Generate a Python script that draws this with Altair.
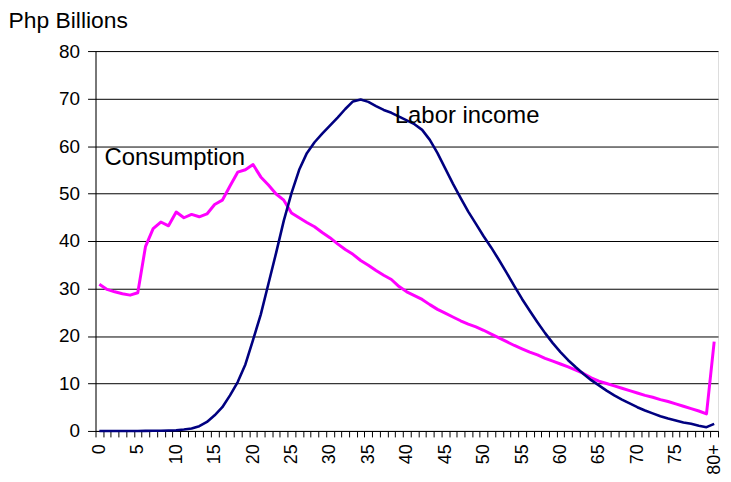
import altair as alt
import pandas as pd

ages = list(range(81))

consumption = [
    30.9, 29.8, 29.3, 28.9, 28.6, 29.1, 38.8, 42.6, 44.0, 43.2,
    46.1, 44.9, 45.6, 45.1, 45.7, 47.7, 48.6, 51.6, 54.5, 55.0,
    56.1, 53.5, 51.8, 49.9, 48.6, 45.9, 44.9, 43.9, 43.0, 41.8,
    40.7, 39.4, 38.2, 37.2, 35.9, 34.9, 33.8, 32.8, 31.9, 30.4,
    29.3, 28.5, 27.7, 26.6, 25.6, 24.8, 24.0, 23.2, 22.5, 21.9,
    21.2, 20.4, 19.6, 18.8, 18.0, 17.3, 16.6, 16.0, 15.3, 14.7,
    14.1, 13.5, 12.8, 12.1, 11.2, 10.5, 10.0, 9.5, 9.0, 8.5,
    8.0, 7.5, 7.1, 6.6, 6.2, 5.7, 5.2, 4.7, 4.2, 3.6,
    18.8,
]

labor_income = [
    0.0, 0.0, 0.0, 0.0, 0.0, 0.0, 0.02, 0.03, 0.05, 0.1,
    0.15, 0.3, 0.5, 1.0, 1.9, 3.3, 5.0, 7.5, 10.3, 14.0,
    19.2, 24.5, 31.0, 37.5, 44.3, 50.1, 55.0, 58.5, 60.8, 62.6,
    64.3, 66.0, 67.8, 69.4, 69.8, 69.3, 68.4, 67.6, 67.0, 66.2,
    65.4, 64.6, 63.4, 61.3, 58.5, 55.3, 52.1, 49.1, 46.2, 43.6,
    41.0, 38.6, 36.0, 33.3, 30.5, 27.8, 25.3, 22.9, 20.6, 18.5,
    16.6, 14.9, 13.4, 12.0, 10.7, 9.6, 8.5, 7.5, 6.6, 5.8,
    5.0, 4.3, 3.7, 3.1, 2.6, 2.2, 1.8, 1.5, 1.1, 0.8,
    1.5,
]

series_names = ["Consumption", "Labor income"]
series_colors = ["#FF00FF", "#000080"]
y_ticks = [0, 10, 20, 30, 40, 50, 60, 70, 80]
y_title = "Php Billions"

df = pd.DataFrame({
    "age": ages * 2,
    "value": consumption + labor_income,
    "series": [series_names[0]] * len(ages) + [series_names[1]] * len(ages),
    "order": [1] * len(ages) + [2] * len(ages),
})

FONT = "Liberation Sans"

x_enc = alt.X(
    "age:O",
    sort=ages,
    scale=alt.Scale(type="band", paddingInner=0, paddingOuter=0),
    bandPosition=0.5,
    axis=alt.Axis(
        title=None,
        labelAngle=270,
        labelExpr="datum.value == 80 ? '80+' : (datum.value % 5 == 0 ? datum.label : '')",
        labelOverlap=False,
        labelFontSize=18,
        labelFont=FONT,
        labelColor="black",
        labelPadding=7,
        tickBand="extent",
        tickSize=6,
        tickColor="black",
        domainColor="black",
        grid=False,
    ),
)

y_enc = alt.Y(
    "value:Q",
    scale=alt.Scale(domain=[0, 80], nice=False),
    axis=alt.Axis(
        values=y_ticks,
        grid=True,
        gridColor="black",
        gridWidth=1,
        tickSize=8,
        tickColor="black",
        domainColor="black",
        labelFontSize=19,
        labelFont=FONT,
        labelColor="black",
        labelPadding=8,
        title=y_title,
        titleAngle=0,
        titleAlign="left",
        titleBaseline="alphabetic",
        titleX=-88,
        titleY=-24,
        titleFont=FONT,
        titleFontSize=23,
        titleFontWeight="normal",
        titleColor="black",
    ),
)

lines = alt.Chart(df).mark_line(strokeJoin="round").encode(
    x=x_enc,
    y=y_enc,
    color=alt.Color("series:N", scale=alt.Scale(domain=series_names, range=series_colors), legend=None),
    strokeWidth=alt.StrokeWidth("series:N", scale=alt.Scale(domain=series_names, range=[3, 2.6]), legend=None),
    order="order:Q",
)

cons_label = alt.Chart(pd.DataFrame({"t": [series_names[0]]})).mark_text(
    align="left", baseline="alphabetic", fontSize=24, font=FONT, color="black"
).encode(x=alt.value(9), y=alt.value(115), text="t:N")

labor_label = alt.Chart(pd.DataFrame({"t": [series_names[1]]})).mark_text(
    align="left", baseline="alphabetic", fontSize=24, font=FONT, color="black"
).encode(x=alt.value(301), y=alt.value(72), text="t:N")

chart = alt.layer(lines, cons_label, labor_label).properties(
    width=626,
    height=382,
    autosize=alt.AutoSizeParams(type="none"),
    padding={"left": 88, "top": 42, "right": 5, "bottom": 46},
).configure_view(stroke="#808080", strokeWidth=1).configure(background="white")

chart.save("out.html", embed_options={"renderer": "svg", "actions": False})
